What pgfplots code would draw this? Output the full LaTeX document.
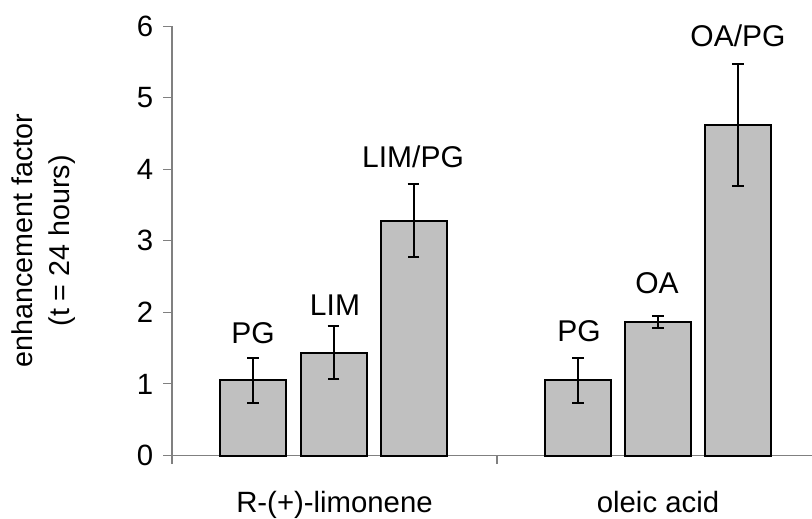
\documentclass[border=0pt]{standalone}
\usepackage{pgfplots}
\pgfplotsset{compat=1.18}
\usepackage{fontspec}
\setmainfont{Liberation Sans}
\definecolor{barfill}{RGB}{192,192,192}
\definecolor{axisgray}{RGB}{128,128,128}

% bar centres are given in picture pixels along x
\pgfplotstableread{
x      y      e
253    1.050  0.31
333.5  1.434  0.37
413.5  3.284  0.51
578    1.050  0.31
658    1.867  0.08
738    4.618  0.85
}\bars

\begin{document}
\begin{tikzpicture}
\begin{axis}[
  scale only axis,
  width=480pt, height=322pt,
  xmin=172, xmax=812,
  ymin=0, ymax=6,
  axis lines*=left,
  axis line style={axisgray, line width=0.8pt},
  tick style={axisgray, line width=0.8pt},
  tick align=outside,
  major tick length=6.5pt,
  ytick={0,1,2,3,4,5,6},
  yticklabel style={xshift=-4pt},
  xtick={172,497},
  xticklabels={},
  extra x ticks={334.5,658},
  extra x tick labels={R-(+)-limonene,oleic acid},
  extra x tick style={major tick length=0pt, xticklabel style={yshift=-23pt}},
  /pgf/number format/assume math mode=true,
  every tick label/.append style={font=\fontsize{22}{24}\selectfont},
  ylabel={enhancement factor\\(t = 24 hours)},
  ylabel style={align=center, font=\fontsize{21.5}{28}\selectfont,
    at={(axis description cs:-0.143,0.5)}, anchor=south},
  clip=false,
]
\addplot[ybar, bar width=66, bar shift=0pt, fill=barfill, draw=black, line width=1.5pt,
  error bars/.cd, y dir=both, y explicit,
  error bar style={black, line width=1.5pt},
  error mark options={rotate=90, mark size=4.4pt, line width=1.5pt, black}]
  table[x=x, y=y, y error=e] {\bars};

\coordinate (O) at (axis cs:172,0);
\begin{scope}[font=\fontsize{22.5}{26}\selectfont]
\node[anchor=base] at (axis cs:253,1.569) {PG};
\node[anchor=base] at (axis cs:335,1.951) {LIM};
\node[anchor=base] at (axis cs:413,4.031) {LIM/PG};
\node[anchor=base] at (axis cs:579,1.592) {PG};
\node[anchor=base] at (axis cs:657,2.269) {OA};
\node[anchor=base] at (axis cs:738,5.718) {OA/PG};
\end{scope}
\end{axis}
\pgfresetboundingbox
\path[use as bounding box] ([shift={(-129pt,-46.875pt)}]O) rectangle ([shift={(480pt,341.625pt)}]O);
\end{tikzpicture}
\end{document}
